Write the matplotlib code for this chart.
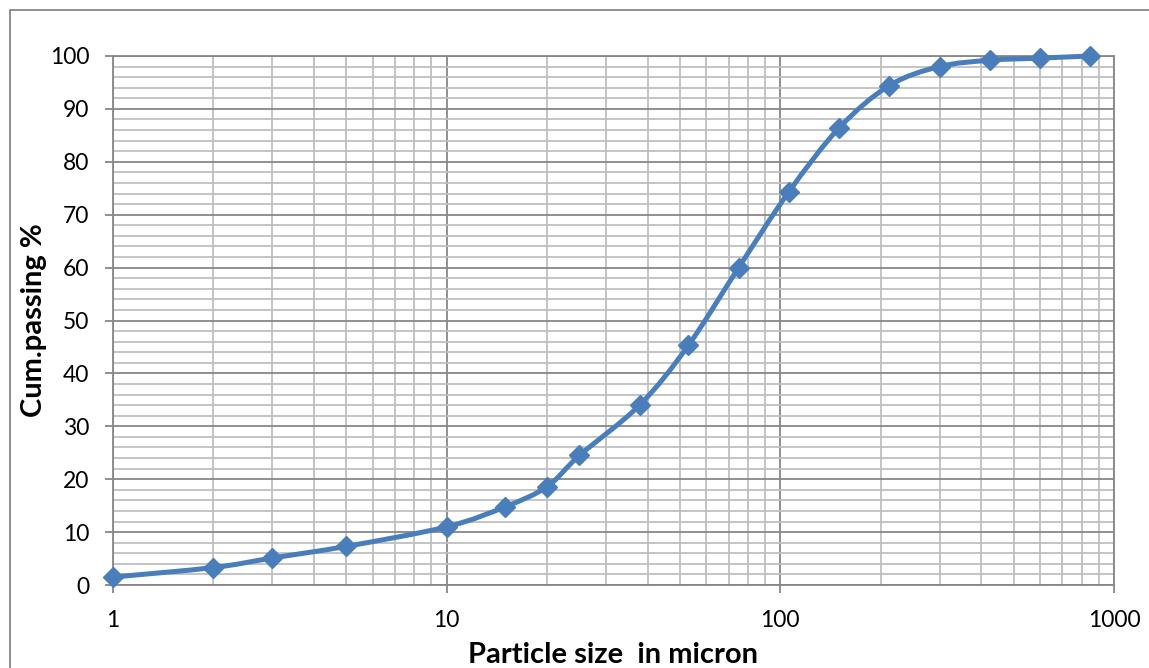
import numpy as np
import matplotlib
matplotlib.use('Agg')
import matplotlib.pyplot as plt
from matplotlib.path import Path
from matplotlib.patches import PathPatch, Rectangle
from matplotlib.ticker import FixedLocator, FixedFormatter, MultipleLocator, LogLocator, NullFormatter

# sieve analysis: particle size (micron) vs cumulative passing (%)
size_micron = [1, 2, 3, 5, 10, 15, 20, 25, 38, 53, 75, 106, 150, 212, 300, 425, 600, 850]
cum_passing = [1.5, 3.3, 5.1, 7.3, 11.0, 14.8, 18.6, 24.5, 34.1, 45.3, 60.0, 74.3,
               86.4, 94.4, 98.0, 99.2, 99.6, 100.0]

x_ticks = [1, 10, 100, 1000]
x_tick_labels = ['1', '10', '100', '1000']

LINE_BLUE = '#4a7ebb'
MAJOR_GRID = '#878787'
MINOR_GRID = '#bfbfbf'

plt.rcParams['font.family'] = ['Lato', 'DejaVu Sans']


def smooth_path(xs, ys):
    # bezier segments through every point (log-x space), like a spreadsheet "smoothed line"
    lx = np.log10(xs)
    ly = np.asarray(ys, dtype=float)
    pts = np.column_stack([lx, ly])
    n = len(pts)
    verts = [pts[0]]
    codes = [Path.MOVETO]
    for i in range(n - 1):
        p0 = pts[i - 1] if i > 0 else pts[i]
        p1 = pts[i]
        p2 = pts[i + 1]
        p3 = pts[i + 2] if i + 2 < n else pts[i + 1]
        c1 = p1 + (p2 - p0) / 6.0
        c2 = p2 - (p3 - p1) / 6.0
        verts += [c1, c2, p2]
        codes += [Path.CURVE4] * 3
    verts = np.array(verts)
    verts[:, 0] = 10 ** verts[:, 0]
    return Path(verts, codes)


fig = plt.figure(figsize=(11.49, 6.68), dpi=100)
ax = fig.add_axes([113 / 1149, 1 - 585 / 668, (1114 - 113) / 1149, (585 - 56) / 668])

ax.set_xscale('log')
ax.set_xlim(1, 1000)
ax.set_ylim(0, 100)

# grid
ax.xaxis.set_major_locator(FixedLocator(x_ticks))
ax.xaxis.set_major_formatter(FixedFormatter(x_tick_labels))
ax.xaxis.set_minor_locator(LogLocator(base=10, subs=np.arange(2, 10)))
ax.xaxis.set_minor_formatter(NullFormatter())
ax.yaxis.set_major_locator(MultipleLocator(10))
ax.yaxis.set_minor_locator(MultipleLocator(2))
ax.grid(which='minor', color=MINOR_GRID, lw=1.3, zorder=0)
ax.grid(which='major', color=MAJOR_GRID, lw=1.3, zorder=0.5)
ax.set_axisbelow(True)

for side in ['left', 'right', 'top', 'bottom']:
    ax.spines[side].set_color(MAJOR_GRID)
    ax.spines[side].set_linewidth(1.3)

ax.tick_params(which='major', direction='out', length=6, width=1.3, color=MAJOR_GRID,
               labelsize=16.5, labelcolor='black')
ax.tick_params(axis='y', which='major', pad=11)
ax.tick_params(axis='x', which='major', pad=12)
ax.tick_params(which='minor', length=0)

# curve + markers
curve = PathPatch(smooth_path(size_micron, cum_passing), facecolor='none',
                  edgecolor=LINE_BLUE, lw=3.6, capstyle='round', zorder=3, clip_on=False)
ax.add_patch(curve)
ax.plot(size_micron, cum_passing, linestyle='none', marker='D', markersize=10,
        color=LINE_BLUE, zorder=4, clip_on=False)

ax.set_xlabel('Particle size  in micron', fontsize=21, fontweight='bold', labelpad=8)
ax.set_ylabel('Cum.passing %', fontsize=21, fontweight='bold', labelpad=2)

# chart border
fig.patches.append(Rectangle((10 / 1149, -0.1), 1.2, 1 - 10 / 668 + 0.1,
                             transform=fig.transFigure, fill=False,
                             edgecolor=MAJOR_GRID, lw=1.3))

fig.savefig('out.png', dpi=100)
